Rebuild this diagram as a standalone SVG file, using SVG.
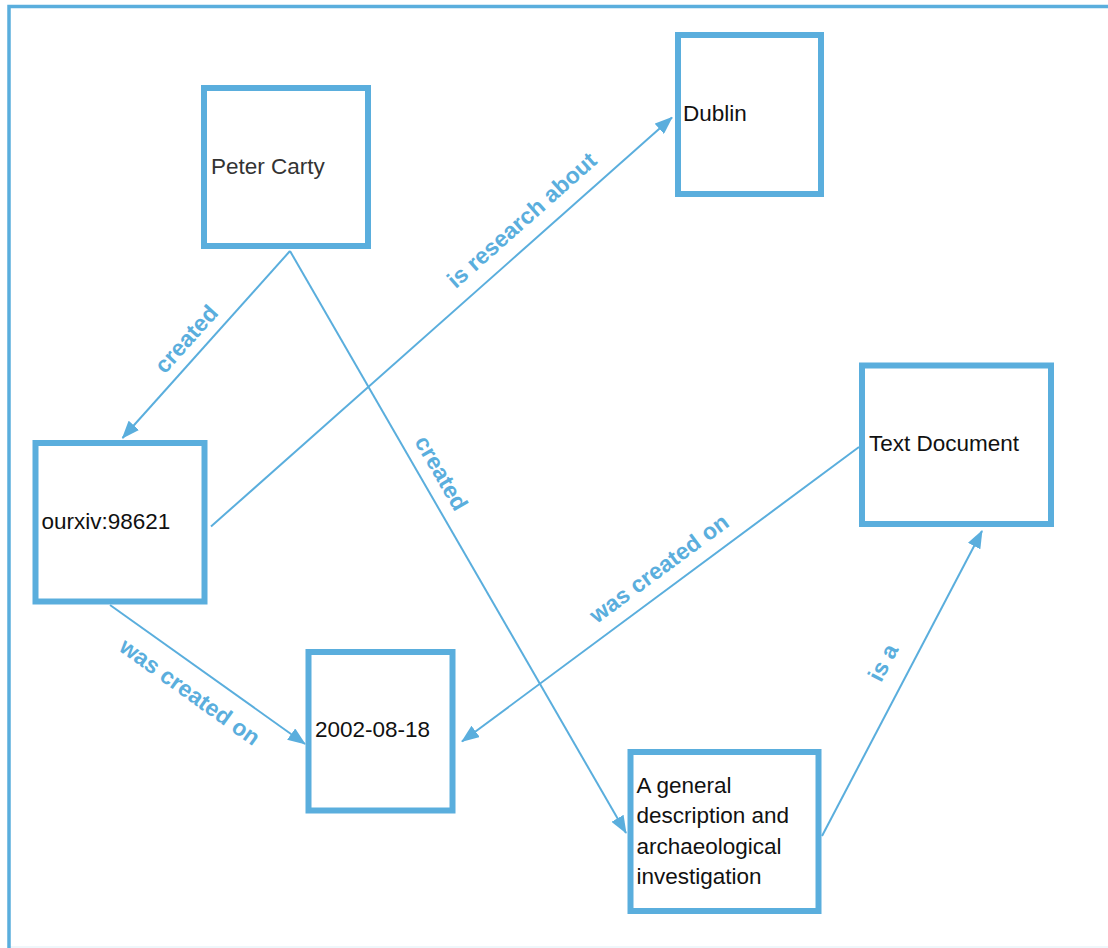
<svg xmlns="http://www.w3.org/2000/svg" width="1108" height="948" viewBox="0 0 1108 948">
<style>
.node{fill:#fff;stroke:#5aaedd;stroke-width:6}
.nt{font-family:"Liberation Sans",Arial,sans-serif;font-size:22.5px;fill:#111}
.edge{stroke:#5aaedd;stroke-width:2;fill:none;marker-end:url(#arr)}
.lbl{font-family:"Liberation Sans",Arial,sans-serif;font-size:23px;font-weight:bold;fill:#5aaedd;text-anchor:middle;dominant-baseline:central}
</style>
<defs>
<marker id="arr" viewBox="0 0 18 14" refX="17" refY="7" markerWidth="18" markerHeight="14" markerUnits="userSpaceOnUse" orient="auto">
<path d="M0,0 L18,7 L0,14 z" fill="#5aaedd"/>
</marker>
</defs>
<rect width="1108" height="948" fill="#fff"/>
<path d="M9,948 V6.5 H1108" fill="none" stroke="#5aaedd" stroke-width="3.5"/>
<line x1="9" y1="947" x2="1108" y2="947" stroke="#5aaedd" stroke-width="1.5" opacity="0.12"/>
<g id="connectors">
<line class="edge" x1="290" y1="251" x2="122.5" y2="438"/>
<line class="edge" x1="290" y1="251" x2="626" y2="833"/>
<line class="edge" x1="211" y1="526.5" x2="672" y2="117.5"/>
<line class="edge" x1="110" y1="605" x2="305" y2="744"/>
<line class="edge" x1="859" y1="447" x2="462" y2="741.5"/>
<line class="edge" x1="822" y1="836" x2="982" y2="531"/>
<text class="lbl" transform="translate(186,339) rotate(-48.1)">created</text>
<text class="lbl" transform="translate(441.5,473) rotate(60)">created</text>
<text class="lbl" transform="translate(521.7,220) rotate(-41.6)">is research about</text>
<text class="lbl" transform="translate(190,691.7) rotate(35.5)">was created on</text>
<text class="lbl" transform="translate(659,568.3) rotate(-36.4)">was created on</text>
<text class="lbl" transform="translate(883,662.5) rotate(-62.1)">is a</text>
</g>
<g id="peter-carty">
<rect class="node" x="204" y="88" width="164" height="158"/>
<text class="nt" x="211" y="174" style="fill:#333">Peter Carty</text>
</g>
<g id="dublin">
<rect class="node" x="678" y="35" width="143" height="159"/>
<text class="nt" x="683" y="120.5">Dublin</text>
</g>
<g id="ourxiv">
<rect class="node" x="35.5" y="443" width="169" height="158.5"/>
<text class="nt" x="41.5" y="529">ourxiv:98621</text>
</g>
<g id="text-document">
<rect class="node" x="862" y="365.5" width="189" height="158.5"/>
<text class="nt" x="869" y="450.5">Text Document</text>
</g>
<g id="date">
<rect class="node" x="308.5" y="652" width="144" height="158.5"/>
<text class="nt" x="315" y="736.5">2002-08-18</text>
</g>
<g id="general-description">
<rect class="node" x="630.5" y="752" width="188" height="159"/>
<text class="nt" x="636.5" y="792.5">A general</text>
<text class="nt" x="636.5" y="823">description and</text>
<text class="nt" x="636.5" y="853.5">archaeological</text>
<text class="nt" x="636.5" y="884">investigation</text>
</g>
</svg>
